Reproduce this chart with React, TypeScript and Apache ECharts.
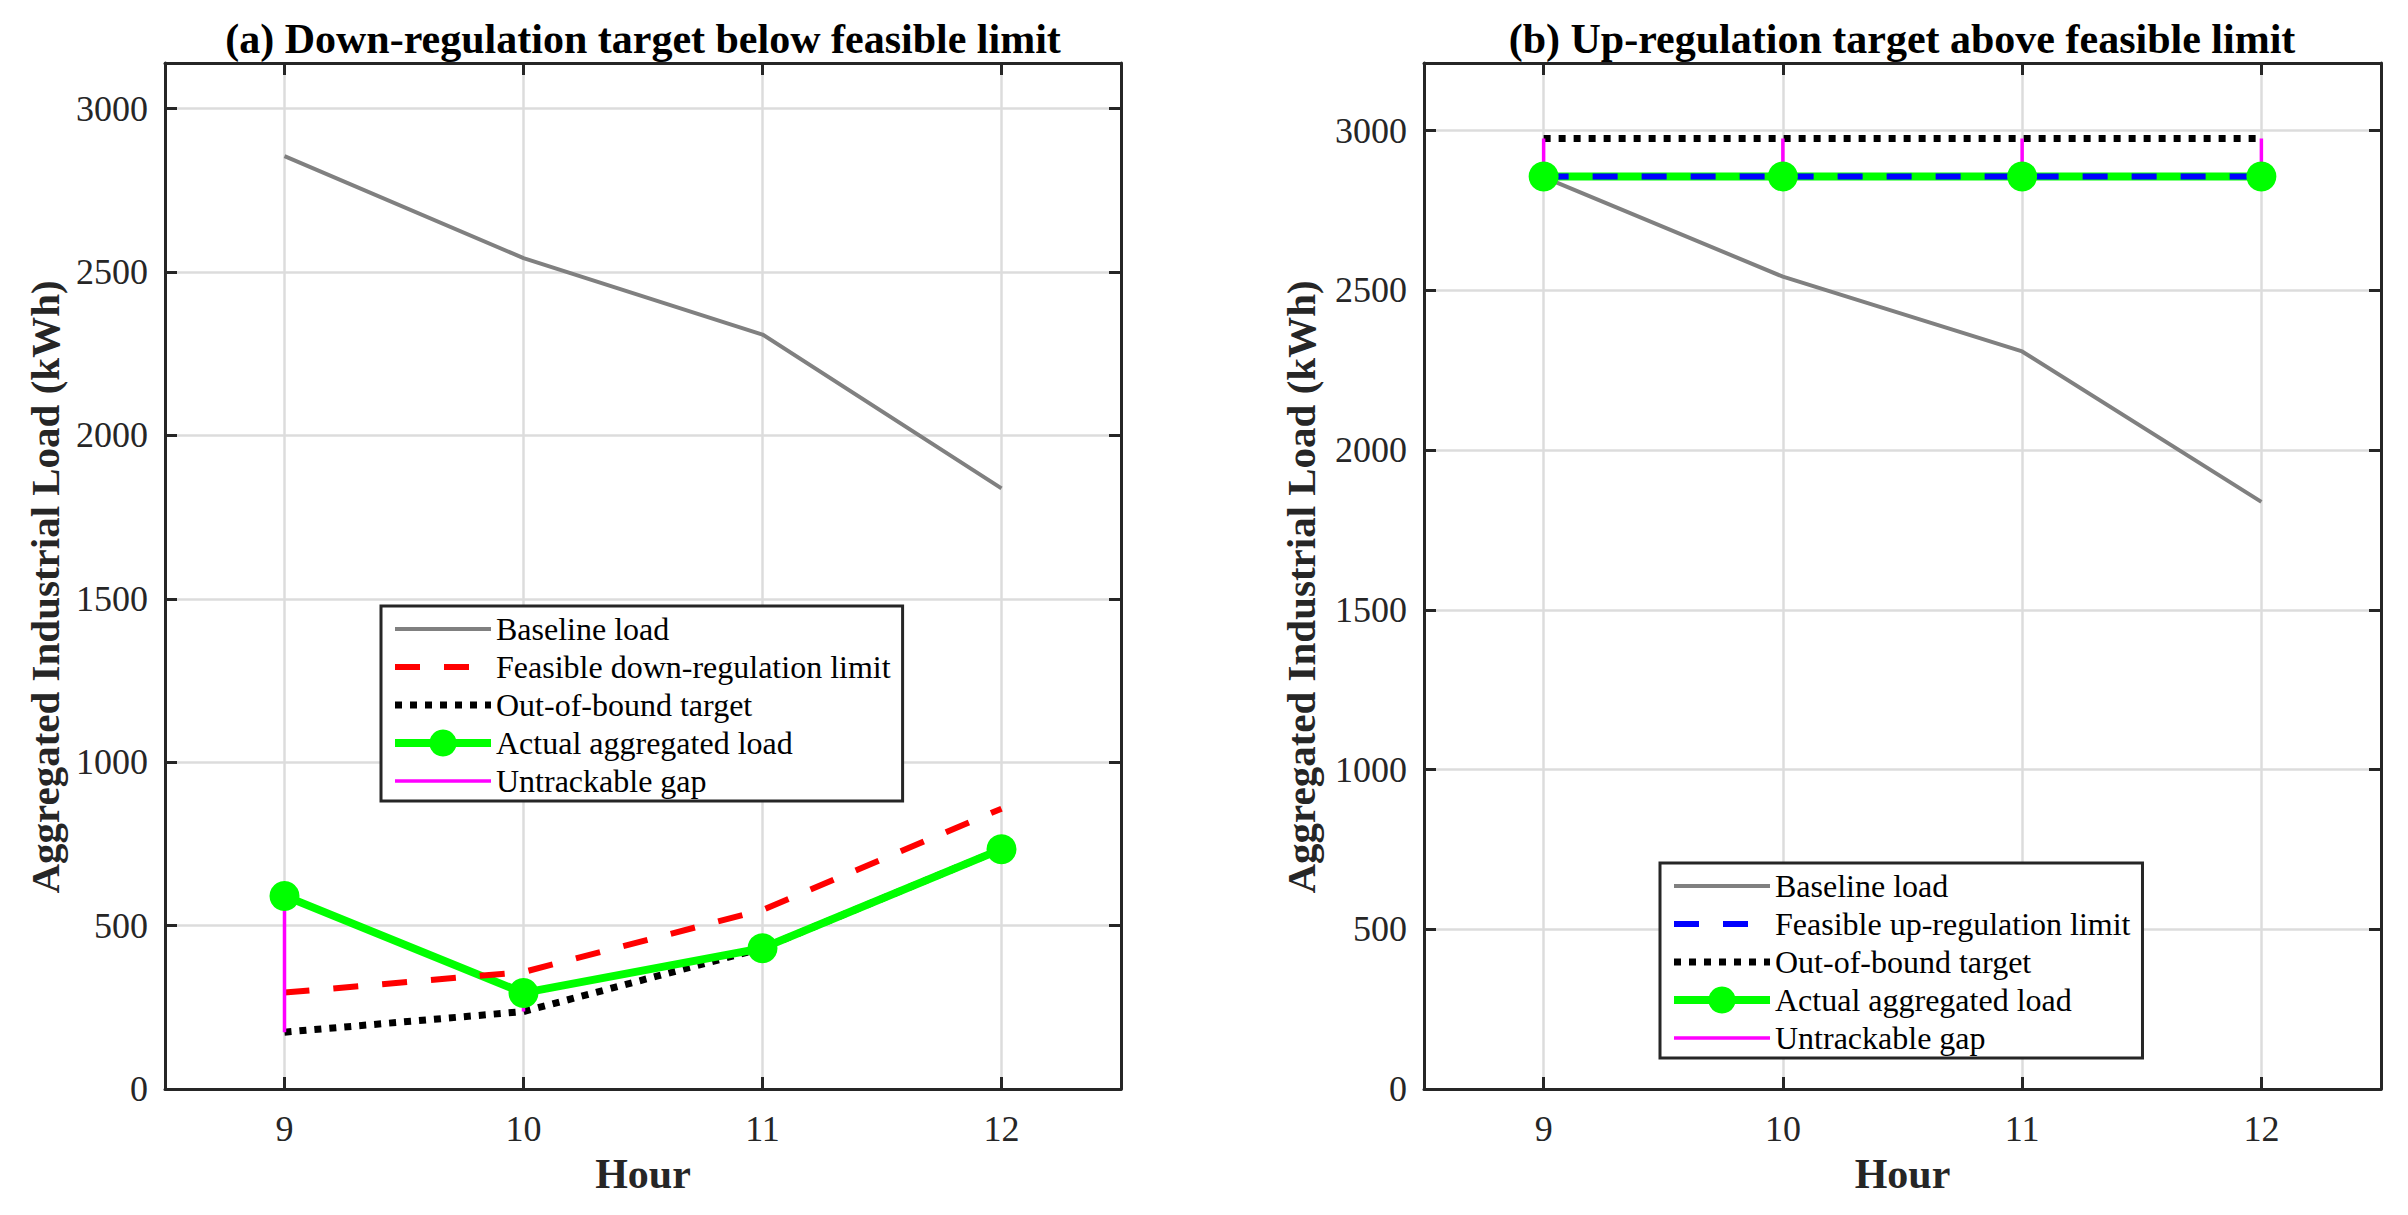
import React, { useEffect, useRef } from 'react';
import * as echarts from 'echarts';

const hours = [9, 10, 11, 12];
const baselineLoad = [2855, 2543, 2309, 1838];
const downLimit = [295, 358, 548, 858];
const downTarget = [174, 237, 431, 734];
const downActual = [591, 294, 431, 734];
const upLimit = [2857, 2857, 2857, 2857];
const upTarget = [2976, 2976, 2976, 2976];
const upActual = [2857, 2857, 2857, 2857];
const xTicks = [9, 10, 11, 12];
const yTicks = [0, 500, 1000, 1500, 2000, 2500, 3000];
const xRange = [8.5, 12.5];
const leftYMax = 3140;
const rightYMax = 3212;

const titleA = '(a) Down-regulation target below feasible limit';
const titleB = '(b) Up-regulation target above feasible limit';
const yName = 'Aggregated Industrial Load (kWh)';
const xName = 'Hour';
const nameBaseline = 'Baseline load';
const nameDownLimit = 'Feasible down-regulation limit';
const nameUpLimit = 'Feasible up-regulation limit';
const nameTarget = 'Out-of-bound target';
const nameActual = 'Actual aggregated load';
const nameGap = 'Untrackable gap';

const FONT = 'Liberation Serif, Times New Roman, serif';
const AX = '#262626';

const W = { baseline: 4, limit: 6, target: 7, actual: 8, gap: 3.5 };

const pts = (arr: number[]) => hours.map((h, i) => [h, arr[i]]);
const gapPts = (from: number[], to: number[]) => {
  const out: any[] = [];
  hours.forEach((h, i) => {
    out.push([h, from[i]]);
    out.push([h, to[i]]);
    out.push([h, '-']);
  });
  return out;
};

function xAxisDef(gridIndex: number, top: boolean) {
  return {
    type: 'value',
    gridIndex,
    position: top ? 'top' : 'bottom',
    min: xRange[0],
    max: xRange[1],
    name: top ? '' : xName,
    nameLocation: 'middle',
    nameGap: 64,
    nameTextStyle: { fontSize: 42, fontWeight: 'bold', fontFamily: FONT, color: AX },
    axisLine: { show: true, onZero: false, lineStyle: { color: AX, width: 3 } },
    axisTick: { show: true, inside: true, length: 12, lineStyle: { color: AX, width: 3 }, customValues: xTicks },
    axisLabel: { show: !top, customValues: xTicks, formatter: (v: number) => String(v), fontSize: 36, fontFamily: FONT, color: AX, margin: 22 },
    splitLine: { show: !top, lineStyle: { color: '#dcdcdc', width: 2.5 } },
  };
}

function yAxisDef(gridIndex: number, right: boolean, max: number) {
  return {
    type: 'value',
    gridIndex,
    position: right ? 'right' : 'left',
    min: 0,
    max,
    axisLine: { show: true, onZero: false, lineStyle: { color: AX, width: 3 } },
    axisTick: { show: true, inside: true, length: 12, lineStyle: { color: AX, width: 3 }, customValues: yTicks },
    axisLabel: { show: !right, customValues: yTicks, formatter: (v: number) => String(v), fontSize: 36, fontFamily: FONT, color: AX, margin: 17 },
    splitLine: { show: !right, lineStyle: { color: '#dcdcdc', width: 2.5 } },
  };
}

function seriesSet(xi: number, yi: number, limitName: string, limitColor: string, limit: number[], target: number[], actual: number[]) {
  const common = { type: 'line', xAxisIndex: xi, yAxisIndex: yi, silent: true, emphasis: { disabled: true } };
  return [
    { ...common, name: nameBaseline, data: pts(baselineLoad), symbol: 'none', lineStyle: { color: '#808080', width: W.baseline }, itemStyle: { color: '#808080' } },
    { ...common, name: nameTarget, data: pts(target), symbol: 'none', lineStyle: { color: '#000000', width: W.target, type: [7, 8] }, itemStyle: { color: '#000000' } },
    { ...common, name: nameActual, data: pts(actual), symbol: 'circle', symbolSize: 30, showSymbol: true, lineStyle: { color: '#00ff00', width: W.actual }, itemStyle: { color: '#00ff00' } },
    { ...common, name: limitName, data: pts(limit), symbol: 'none', lineStyle: { color: limitColor, width: W.limit, type: [25, 24] }, itemStyle: { color: limitColor } },
    { ...common, name: nameGap, data: gapPts(target, actual), symbol: 'none', connectNulls: false, lineStyle: { color: '#ff00ff', width: W.gap }, itemStyle: { color: '#ff00ff' } },
  ];
}

function legendDef(left: number, top: number, limitName: string) {
  const hide = { opacity: 0 };
  return {
    orient: 'vertical',
    left,
    top,
    data: [
      { name: nameBaseline, itemStyle: hide, lineStyle: { width: W.baseline } },
      { name: limitName, itemStyle: hide, lineStyle: { width: W.limit } },
      { name: nameTarget, itemStyle: hide, lineStyle: { width: W.target } },
      { name: nameActual, lineStyle: { width: W.actual } },
      { name: nameGap, itemStyle: hide, lineStyle: { width: W.gap } },
    ],
    selectedMode: false,
    itemWidth: 96,
    itemHeight: 34,
    itemGap: 6,
    padding: [7, 12, 4, 10],
    borderColor: AX,
    borderWidth: 3,
    backgroundColor: '#ffffff',
    textStyle: { fontSize: 32, fontFamily: FONT, color: '#000000' },
  };
}

export default function App() {
  const ref = useRef<HTMLDivElement>(null);
  useEffect(() => {
    if (!ref.current) return;
    const chart = echarts.init(ref.current, undefined, { renderer: 'svg' });
    const titleFont = `bold 42px ${FONT}`;
    const labelFont = `bold 41px ${FONT}`;
    chart.setOption({
      animation: false,
      backgroundColor: '#ffffff',
      grid: [
        { left: 165, top: 63, width: 956, height: 1026 },
        { left: 1424, top: 63, width: 957, height: 1026 },
      ],
      xAxis: [xAxisDef(0, false), xAxisDef(0, true), xAxisDef(1, false), xAxisDef(1, true)],
      yAxis: [
        yAxisDef(0, false, leftYMax),
        yAxisDef(0, true, leftYMax),
        yAxisDef(1, false, rightYMax),
        yAxisDef(1, true, rightYMax),
      ],
      legend: [legendDef(381, 606, nameDownLimit), legendDef(1660, 863, nameUpLimit)],
      series: [
        ...seriesSet(0, 0, nameDownLimit, '#ff0000', downLimit, downTarget, downActual),
        ...seriesSet(2, 2, nameUpLimit, '#0000ff', upLimit, upTarget, upActual),
      ],
      graphic: [
        { type: 'text', x: 643, y: 39, style: { text: titleA, font: titleFont, fill: '#000000', align: 'center', verticalAlign: 'middle' } },
        { type: 'text', x: 1902, y: 39, style: { text: titleB, font: titleFont, fill: '#000000', align: 'center', verticalAlign: 'middle' } },
        { type: 'text', x: 45, y: 587, rotation: Math.PI / 2, style: { text: yName, font: labelFont, fill: AX, align: 'center', verticalAlign: 'middle' } },
        { type: 'text', x: 1301, y: 587, rotation: Math.PI / 2, style: { text: yName, font: labelFont, fill: AX, align: 'center', verticalAlign: 'middle' } },
      ],
    });
    return () => chart.dispose();
  }, []);
  return <div ref={ref} style={{ position: 'absolute', left: 0, top: 0, width: 2408, height: 1215, background: '#fff' }} />;
}
